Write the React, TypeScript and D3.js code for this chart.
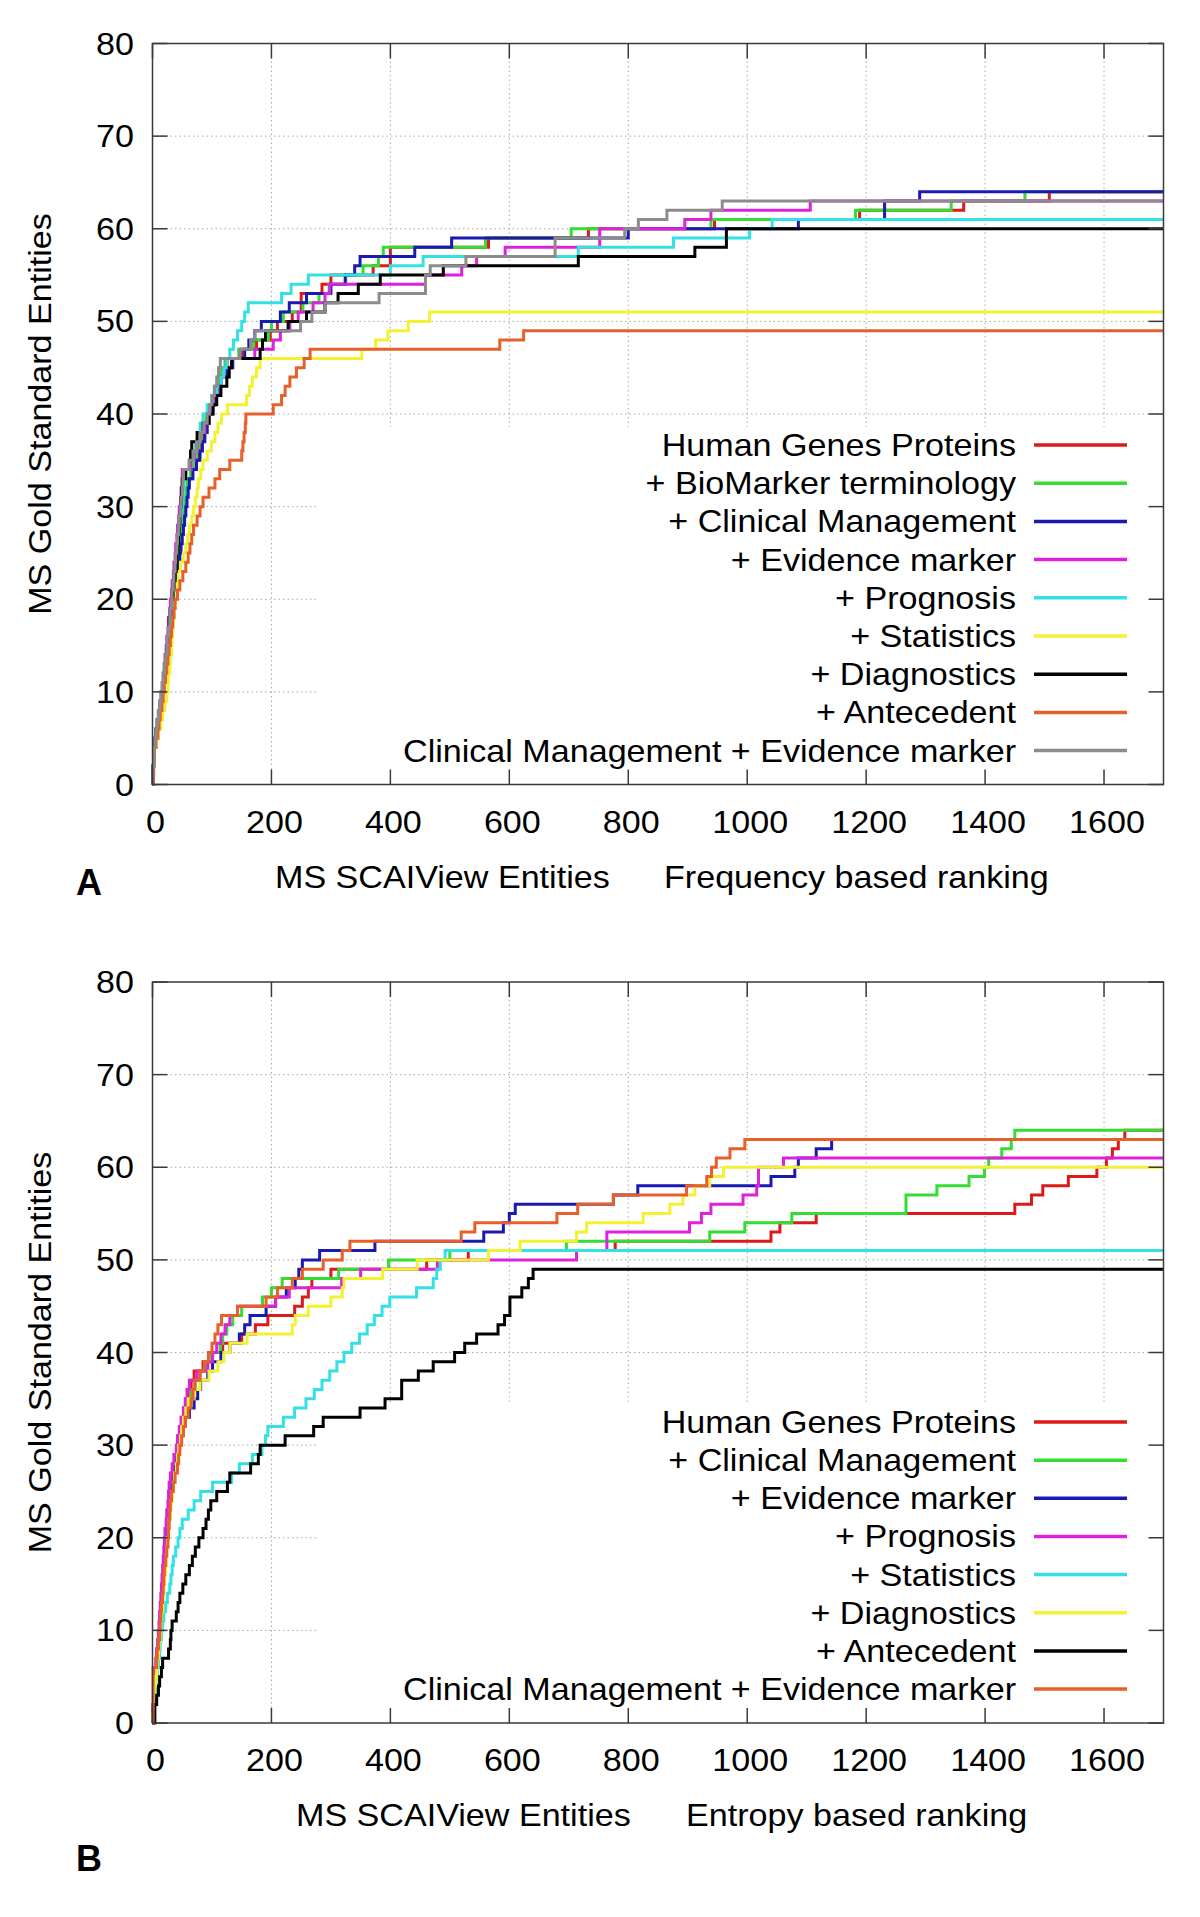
import React from "react";
import * as d3 from "d3";

// ---------- axes ----------
const X_DOMAIN: [number, number] = [0, 1700];
const Y_DOMAIN: [number, number] = [0, 80];
const xTickValues = [0, 200, 400, 600, 800, 1000, 1200, 1400, 1600];
const yTickValues = [0, 10, 20, 30, 40, 50, 60, 70, 80];

// ---------- panel A: frequency based ranking ----------
const namesA = [
  "Human Genes Proteins",
  "+ BioMarker terminology",
  "+ Clinical Management",
  "+ Evidence marker",
  "+ Prognosis",
  "+ Statistics",
  "+ Diagnostics",
  "+ Antecedent",
  "Clinical Management + Evidence marker",
];
const colorsA = ["#dd1a1a", "#33dd33", "#1a1ab3", "#dd22dd", "#33e0e6", "#f2f233", "#000000", "#e6602a", "#8c8c8c"];

// rank at which the n-th gold standard entity is found (y = n)
const A_humanGenes = [1,1,2,2,5,7,9,11,14,16,18,20,22,24,26,28,30,31,33,35,37,38,40,42,44,45,47,49,51,53,55,57,60,66,72,76,80,84,88,92,97,102,107,112,118,125,150,175,198,210,235,250,250,285,300,371,400,400,565,733,945,1189,1364,1508];
const A_bioMarker = [1,1,2,2,5,7,9,11,14,16,18,20,22,24,26,28,30,31,33,35,37,38,40,42,44,45,47,49,50,52,54,56,58,64,70,74,78,82,86,90,95,100,105,110,116,122,145,170,195,200,220,253,280,297,325,354,380,388,560,704,939,1182,1343,1467];
const A_clinical = [1,1,2,2,5,7,10,12,14,16,18,20,22,24,26,28,30,32,34,36,38,40,42,44,46,48,50,52,54,56,58,60,62,68,74,80,84,88,92,95,100,105,110,115,125,135,155,162,172,183,215,230,259,300,324,340,349,441,503,800,1086,1231,1231,1290];
const A_evidence = [1,1,2,2,4,6,8,10,13,15,17,18,20,21,23,24,26,27,29,30,32,33,35,36,38,39,41,42,44,45,47,48,50,50,65,70,75,80,88,95,100,105,110,115,120,125,172,203,215,231,245,270,290,298,459,520,545,593,752,752,895,939,1106];
const A_prognosis = [1,1,2,2,4,6,8,10,12,15,17,19,20,22,24,26,28,30,31,33,34,36,37,39,40,42,43,45,46,48,50,52,53,55,62,68,72,76,80,85,92,100,108,115,120,125,130,136,143,150,155,161,217,233,262,400,455,716,876,1004,1042];
const A_statistics = [1,2,2,3,6,10,14,17,21,24,26,27,29,30,32,33,34,35,37,38,40,41,43,47,52,56,59,62,66,69,72,75,77,81,85,92,99,105,110,116,126,158,163,168,175,181,352,375,396,430,466];
const A_diagnostics = [1,1,2,2,4,6,8,10,13,15,17,19,20,22,24,26,27,28,30,32,34,36,38,40,41,43,44,45,46,47,48,49,50,56,62,64,66,75,85,95,102,108,115,125,129,133,181,185,190,228,259,290,312,346,383,489,716,912,965,965];
const A_antecedent = [1,2,2,3,6,9,11,13,16,18,20,22,24,26,28,30,32,34,36,38,42,46,51,56,60,63,66,69,75,80,85,95,105,113,130,150,152,154,156,157,203,217,223,231,242,255,265,584,624];
const A_clinEvid = [1,1,2,2,4,6,8,10,12,14,16,18,20,22,24,25,27,29,30,32,33,35,36,38,39,41,42,44,45,47,48,50,51,52,62,68,74,80,86,92,96,100,104,108,111,114,147,165,172,249,268,290,381,459,459,467,527,677,677,794,817,865,958];
const seriesA = [A_humanGenes, A_bioMarker, A_clinical, A_evidence, A_prognosis, A_statistics, A_diagnostics, A_antecedent, A_clinEvid];

// ---------- panel B: entropy based ranking ----------
const namesB = [
  "Human Genes Proteins",
  "+ Clinical Management",
  "+ Evidence marker",
  "+ Prognosis",
  "+ Statistics",
  "+ Diagnostics",
  "+ Antecedent",
  "Clinical Management + Evidence marker",
];
const colorsB = ["#dd1a1a", "#33dd33", "#1a1ab3", "#dd22dd", "#33e0e6", "#f2f233", "#000000", "#e6602a"];

const B_humanGenes = [1,1,2,3,3,5,6,7,9,10,12,13,15,16,17,18,19,20,21,22,23,24,25,27,28,30,33,35,38,41,44,47,50,52,56,60,65,70,85,100,118,150,173,194,239,252,262,268,300,461,531,778,1040,1055,1116,1450,1478,1497,1540,1588,1604,1614,1624,1635];
const B_clinical = [1,1,2,3,3,5,6,7,9,10,12,13,15,16,17,18,19,20,21,23,24,26,27,29,30,32,35,37,40,43,46,49,52,55,60,65,72,80,90,99,114,118,125,135,150,185,200,218,313,397,500,696,937,996,1075,1267,1267,1319,1373,1399,1406,1428,1444,1450];
const B_evidence = [1,1,2,3,3,5,7,8,10,11,13,14,15,16,18,19,20,22,23,24,26,27,28,30,31,33,36,38,41,45,48,51,55,62,70,76,81,93,101,115,130,146,155,164,191,207,225,240,246,252,281,374,557,590,600,610,775,816,1040,1080,1086,1116,1142];
const B_prognosis = [1,1,2,3,3,4,6,7,9,10,11,12,13,14,15,16,17,18,19,20,21,23,24,26,27,28,30,33,36,40,42,45,48,52,55,58,62,75,93,101,108,115,122,130,143,207,230,318,350,479,713,764,764,903,923,939,993,1016,1019,1019,1061];
const B_statistics = [1,2,3,5,6,8,10,12,13,15,17,19,22,25,29,31,33,35,39,43,46,50,60,70,81,101,133,146,168,184,190,194,220,239,258,272,285,298,310,322,335,348,361,373,386,399,444,472,478,484,492];
const B_diagnostics = [1,2,2,3,5,7,8,10,11,13,14,15,17,18,19,20,22,23,24,25,27,28,30,31,33,35,37,40,42,44,47,49,52,56,60,70,80,95,110,120,130,159,235,240,262,300,319,322,387,445,565,618,713,730,825,870,892,912,937,960];
const B_antecedent = [4,4,7,10,12,15,17,27,30,31,33,40,43,46,51,56,62,67,72,78,85,90,94,98,108,126,130,165,178,181,223,271,287,349,391,419,419,447,472,508,525,545,581,592,601,601,621,632,640];
const B_clinEvid = [1,1,1,1,1,1,7,8,10,12,13,14,15,17,18,19,20,22,24,26,27,28,29,30,32,35,38,42,44,46,49,52,55,60,65,68,71,80,87,94,100,105,110,116,143,191,210,235,252,287,319,332,519,542,680,715,775,898,932,940,948,971,996];
const seriesB = [B_humanGenes, B_clinical, B_evidence, B_prognosis, B_statistics, B_diagnostics, B_antecedent, B_clinEvid];

// ---------- drawing ----------
const FONT = "'Liberation Sans', Arial, Helvetica, sans-serif";
const PLOT_LEFT = 152.5;
const PLOT_RIGHT = 1163.5;
const BOX_LEFT = 316;

function Label(props: {
  x: number; y: number; text: string; anchor?: string; rotate?: number; size?: number; bold?: boolean; sx?: number;
}) {
  const { x, y, text, anchor = "start", rotate = 0, size = 31, bold = false, sx = 1.1 } = props;
  return (
    <text
      transform={`translate(${x},${y}) rotate(${rotate}) scale(${sx},1)`}
      textAnchor={anchor as any}
      fontFamily={FONT}
      fontSize={size}
      fontWeight={bold ? "bold" : "normal"}
      fill="#000"
    >
      {text}
    </text>
  );
}

type PanelCfg = {
  top: number;
  bottom: number;
  boxTop: number;
  legendY0: number;
  legendStep: number;
  tickBaseline: number;
  titleBaseline: number;
  title1X: number;
  title2X: number;
  title2: string;
  letter: string;
  letterBaseline: number;
  series: number[][];
  names: string[];
  colors: string[];
};

function Panel({ cfg }: { cfg: PanelCfg }) {
  const x = d3.scaleLinear().domain(X_DOMAIN).range([PLOT_LEFT, PLOT_RIGHT]);
  const y = d3.scaleLinear().domain(Y_DOMAIN).range([cfg.bottom, cfg.top]);
  const line = d3
    .line<[number, number]>()
    .x((d) => x(d[0]))
    .y((d) => y(d[1]))
    .curve(d3.curveStepAfter);
  const toPoints = (ranks: number[]): [number, number][] => {
    const pts: [number, number][] = [[0, 0]];
    ranks.forEach((r, i) => pts.push([r, i + 1]));
    pts.push([X_DOMAIN[1], ranks.length]);
    return pts;
  };
  const tickLen = 15;
  const gridStyle = { stroke: "#a8a8a8", strokeWidth: 1, strokeDasharray: "1.5,3" };
  const midY = (cfg.top + cfg.bottom) / 2;

  return (
    <g>
      {/* grid */}
      {xTickValues.filter((t) => t > 0).map((t) => (
        <line key={"gx" + t} x1={x(t)} x2={x(t)} y1={cfg.top} y2={cfg.bottom} style={gridStyle} />
      ))}
      {yTickValues.filter((t) => t > 0 && t < 80).map((t) => (
        <line key={"gy" + t} x1={PLOT_LEFT} x2={PLOT_RIGHT} y1={y(t)} y2={y(t)} style={gridStyle} />
      ))}
      {/* opaque key area */}
      <rect x={BOX_LEFT} y={cfg.boxTop} width={PLOT_RIGHT - BOX_LEFT} height={cfg.bottom - cfg.boxTop} fill="#fff" />
      {/* curves */}
      {cfg.series.map((s, i) => (
        <path
          key={"s" + i}
          d={line(toPoints(s)) || ""}
          fill="none"
          stroke={cfg.colors[i]}
          strokeWidth={3}
          strokeLinejoin="miter"
        />
      ))}
      {/* legend */}
      {cfg.names.map((n, i) => {
        const ly = cfg.legendY0 + i * cfg.legendStep;
        return (
          <g key={"l" + i}>
            <Label x={1016} y={ly + 11} text={n} anchor="end" />
            <line x1={1034} x2={1127} y1={ly} y2={ly} stroke={cfg.colors[i]} strokeWidth={3.5} />
          </g>
        );
      })}
      {/* frame */}
      <rect
        x={PLOT_LEFT}
        y={cfg.top}
        width={PLOT_RIGHT - PLOT_LEFT}
        height={cfg.bottom - cfg.top}
        fill="none"
        stroke="#3a3a3a"
        strokeWidth={1.5}
      />
      {/* ticks */}
      {xTickValues.map((t) => (
        <g key={"tx" + t}>
          <line x1={x(t)} x2={x(t)} y1={cfg.bottom} y2={cfg.bottom - tickLen} stroke="#3a3a3a" strokeWidth={1.5} />
          <line x1={x(t)} x2={x(t)} y1={cfg.top} y2={cfg.top + tickLen} stroke="#3a3a3a" strokeWidth={1.5} />
          <Label x={x(t) + 3} y={cfg.tickBaseline} text={String(t)} anchor="middle" />
        </g>
      ))}
      {yTickValues.map((t) => (
        <g key={"ty" + t}>
          <line x1={PLOT_LEFT} x2={PLOT_LEFT + tickLen} y1={y(t)} y2={y(t)} stroke="#3a3a3a" strokeWidth={1.5} />
          <line x1={PLOT_RIGHT} x2={PLOT_RIGHT - tickLen} y1={y(t)} y2={y(t)} stroke="#3a3a3a" strokeWidth={1.5} />
          <Label x={134} y={y(t) + 11} text={String(t)} anchor="end" />
        </g>
      ))}
      {/* titles */}
      <Label x={51} y={midY} text="MS Gold Standard Entities" anchor="middle" rotate={-90} />
      <Label x={cfg.title1X} y={cfg.titleBaseline} text="MS SCAIView Entities" />
      <Label x={cfg.title2X} y={cfg.titleBaseline} text={cfg.title2} />
      <Label x={76} y={cfg.letterBaseline} text={cfg.letter} bold size={36} sx={1} />
    </g>
  );
}

const panelA: PanelCfg = {
  top: 43.5,
  bottom: 784.5,
  boxTop: 427,
  legendY0: 445,
  legendStep: 38.2,
  tickBaseline: 833,
  titleBaseline: 888,
  title1X: 275,
  title2X: 664,
  title2: "Frequency based ranking",
  letter: "A",
  letterBaseline: 895,
  series: seriesA,
  names: namesA,
  colors: colorsA,
};

const panelB: PanelCfg = {
  top: 982,
  bottom: 1723,
  boxTop: 1403,
  legendY0: 1422,
  legendStep: 38.15,
  tickBaseline: 1771,
  titleBaseline: 1826,
  title1X: 296,
  title2X: 686,
  title2: "Entropy based ranking",
  letter: "B",
  letterBaseline: 1871,
  series: seriesB,
  names: namesB,
  colors: colorsB,
};

export default function App() {
  return (
    <div style={{ position: "absolute", left: 0, top: 0 }}>
      <svg width={1200} height={1917} viewBox="0 0 1200 1917" style={{ display: "block", background: "#fff" }}>
        <rect x={0} y={0} width={1200} height={1917} fill="#fff" />
        <Panel cfg={panelA} />
        <Panel cfg={panelB} />
      </svg>
    </div>
  );
}
